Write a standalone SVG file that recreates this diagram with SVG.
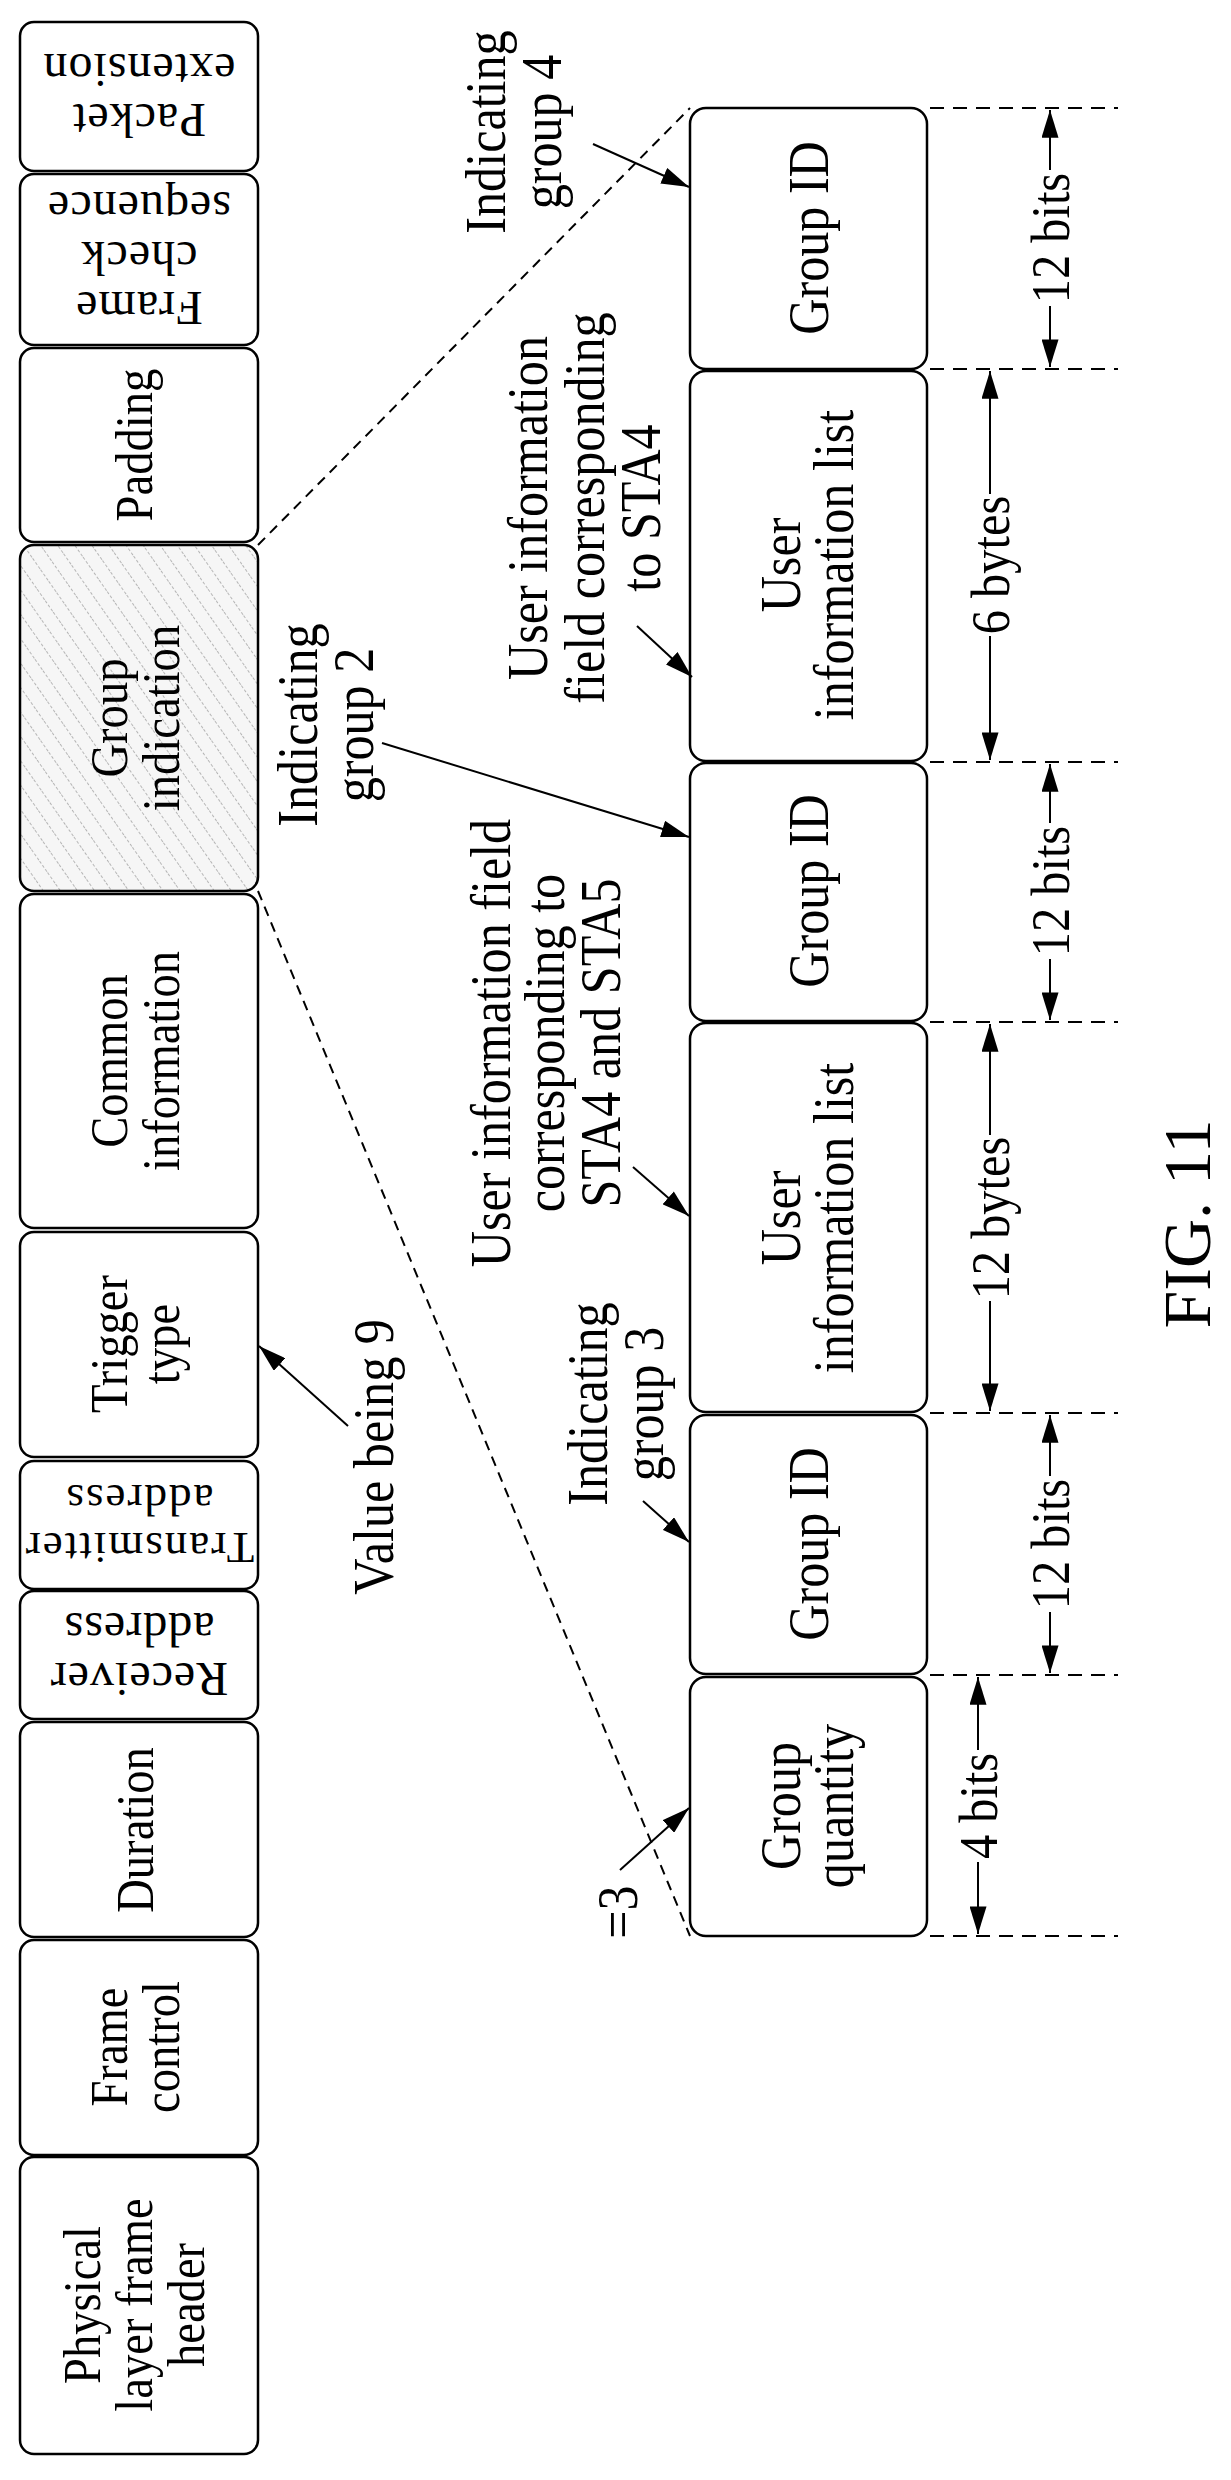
<svg xmlns="http://www.w3.org/2000/svg" width="1231" height="2480" viewBox="0 0 1231 2480">
<style>
text{font-family:"Liberation Serif","Times New Roman",serif;fill:#000;text-anchor:middle}
.b{fill:#fff;stroke:#000;stroke-width:2.5}
.l{font-size:53px}
.u{font-size:48px}
.r{font-size:57px}
.d{font-size:55px}
.c{stroke:#000;stroke-width:2;fill:none}
.dash{stroke:#000;stroke-width:2;stroke-dasharray:10 7;fill:none}
</style>
<defs>
<pattern id="hatch" width="14" height="14" patternUnits="userSpaceOnUse" patternTransform="rotate(-35)">
<rect width="14" height="14" fill="#f6f6f6"/>
<line x1="0" y1="0" x2="0" y2="14" stroke="#777" stroke-width="1" stroke-dasharray="3 2"/>
</pattern>
<marker id="ah" viewBox="0 0 26 16" refX="26" refY="8" markerWidth="28" markerHeight="17" markerUnits="userSpaceOnUse" orient="auto-start-reverse">
<path d="M0,0 L26,8 L0,16 Z" fill="#000"/>
</marker>
</defs>

<g id="frame-fields">
<g id="packet-ext"><rect class="b" x="20" y="22" width="238" height="149" rx="14"/>
<text class="u" transform="translate(139 0) rotate(180)" letter-spacing="1"><tspan x="0" y="-104">Packet</tspan><tspan x="0" y="-54">extension</tspan></text></g>
<g id="fcs"><rect class="b" x="20" y="174" width="238" height="171" rx="14"/>
<text class="u" transform="translate(139 0) rotate(180)" letter-spacing="1"><tspan x="0" y="-292">Frame</tspan><tspan x="0" y="-242">check</tspan><tspan x="0" y="-192">sequence</tspan></text></g>
<g id="padding"><rect class="b" x="20" y="348" width="238" height="194" rx="14"/>
<text class="l" transform="translate(0 445) rotate(-90) scale(0.88 1)"><tspan x="0" y="152">Padding</tspan></text></g>
<g id="group-indication"><rect class="b" x="20" y="545" width="238" height="346" rx="14" style="fill:url(#hatch)"/>
<text class="l" transform="translate(0 718) rotate(-90) scale(0.88 1)"><tspan x="0" y="127">Group</tspan><tspan x="0" y="179">indication</tspan></text></g>
<g id="common-info"><rect class="b" x="20" y="894" width="238" height="334" rx="14"/>
<text class="l" transform="translate(0 1061) rotate(-90) scale(0.88 1)"><tspan x="0" y="127">Common</tspan><tspan x="0" y="179">information</tspan></text></g>
<g id="trigger-type"><rect class="b" x="20" y="1232" width="238" height="225" rx="14"/>
<text class="l" transform="translate(0 1344) rotate(-90) scale(0.88 1)"><tspan x="0" y="127">Trigger</tspan><tspan x="0" y="179">type</tspan></text></g>
<g id="transmitter"><rect class="b" x="20" y="1461" width="238" height="128" rx="14"/>
<text class="u" transform="translate(139 0) rotate(180)" style="font-size:45px" letter-spacing="2"><tspan x="0" y="-1533">Transmitter</tspan><tspan x="0" y="-1485">address</tspan></text></g>
<g id="receiver"><rect class="b" x="20" y="1591" width="238" height="128" rx="14"/>
<text class="u" transform="translate(139 0) rotate(180)" letter-spacing="1"><tspan x="0" y="-1663">Receiver</tspan><tspan x="0" y="-1613">address</tspan></text></g>
<g id="duration"><rect class="b" x="20" y="1722" width="238" height="215" rx="14"/>
<text class="l" transform="translate(0 1830) rotate(-90) scale(0.88 1)"><tspan x="0" y="153">Duration</tspan></text></g>
<g id="frame-control"><rect class="b" x="20" y="1940" width="238" height="215" rx="14"/>
<text class="l" transform="translate(0 2047) rotate(-90) scale(0.88 1)"><tspan x="0" y="127">Frame</tspan><tspan x="0" y="179">control</tspan></text></g>
<g id="phy-header"><rect class="b" x="20" y="2157" width="238" height="297" rx="14"/>
<text class="l" transform="translate(0 2305) rotate(-90) scale(0.88 1)"><tspan x="0" y="100">Physical</tspan><tspan x="0" y="152">layer frame</tspan><tspan x="0" y="204">header</tspan></text></g>
</g>

<g id="group-fields">
<g id="gid4"><rect class="b" x="690" y="108" width="237" height="261" rx="16"/>
<text class="r" transform="translate(0 238) rotate(-90) scale(0.88 1)"><tspan x="0" y="828">Group ID</tspan></text></g>
<g id="uil-sta4"><rect class="b" x="690" y="371" width="237" height="390" rx="16"/>
<text class="r" transform="translate(0 565) rotate(-90) scale(0.88 1)"><tspan x="0" y="800">User</tspan><tspan x="0" y="853">information list</tspan></text></g>
<g id="gid2"><rect class="b" x="690" y="763" width="237" height="258" rx="16"/>
<text class="r" transform="translate(0 891) rotate(-90) scale(0.88 1)"><tspan x="0" y="828">Group ID</tspan></text></g>
<g id="uil-sta45"><rect class="b" x="690" y="1023" width="237" height="389" rx="16"/>
<text class="r" transform="translate(0 1218) rotate(-90) scale(0.88 1)"><tspan x="0" y="800">User</tspan><tspan x="0" y="853">information list</tspan></text></g>
<g id="gid3"><rect class="b" x="690" y="1415" width="237" height="259" rx="16"/>
<text class="r" transform="translate(0 1544) rotate(-90) scale(0.88 1)"><tspan x="0" y="828">Group ID</tspan></text></g>
<g id="group-qty"><rect class="b" x="690" y="1677" width="237" height="259" rx="16"/>
<text class="r" transform="translate(0 1806) rotate(-90) scale(0.88 1)"><tspan x="0" y="800">Group</tspan><tspan x="0" y="853">quantity</tspan></text></g>
</g>

<g id="annotations">
<text class="r" transform="translate(0 132) rotate(-90) scale(0.88 1)"><tspan x="0" y="505">Indicating</tspan><tspan x="0" y="561">group 4</tspan></text>
<text class="r" transform="translate(0 508) rotate(-90) scale(0.88 1)"><tspan x="0" y="547">User information</tspan><tspan x="0" y="604">field corresponding</tspan><tspan x="0" y="660">to STA4</tspan></text>
<text class="r" transform="translate(0 725) rotate(-90) scale(0.88 1)"><tspan x="0" y="317">Indicating</tspan><tspan x="0" y="373">group 2</tspan></text>
<text class="r" transform="translate(0 1043) rotate(-90) scale(0.88 1)"><tspan x="0" y="510">User information field</tspan><tspan x="0" y="564">corresponding to</tspan><tspan x="0" y="620">STA4 and STA5</tspan></text>
<text class="r" transform="translate(0 1404) rotate(-90) scale(0.88 1)"><tspan x="0" y="607">Indicating</tspan><tspan x="0" y="663">group 3</tspan></text>
<text class="r" transform="translate(0 1457) rotate(-90) scale(0.88 1)"><tspan x="0" y="393">Value being 9</tspan></text>
<text class="r" transform="translate(0 1912) rotate(-90) scale(0.88 1)"><tspan x="0" y="637">=3</tspan></text>
<text class="d" transform="translate(0 238) rotate(-90) scale(0.88 1)"><tspan x="0" y="1069">12 bits</tspan></text>
<text class="d" transform="translate(0 565) rotate(-90) scale(0.88 1)"><tspan x="0" y="1009">6 bytes</tspan></text>
<text class="d" transform="translate(0 891) rotate(-90) scale(0.88 1)"><tspan x="0" y="1069">12 bits</tspan></text>
<text class="d" transform="translate(0 1218) rotate(-90) scale(0.88 1)"><tspan x="0" y="1009">12 bytes</tspan></text>
<text class="d" transform="translate(0 1544) rotate(-90) scale(0.88 1)"><tspan x="0" y="1069">12 bits</tspan></text>
<text class="d" transform="translate(0 1806) rotate(-90) scale(0.88 1)"><tspan x="0" y="997">4 bits</tspan></text>
<text transform="translate(0 1224) rotate(-90)" style="font-size:68px"><tspan x="0" y="1210">FIG. 11</tspan></text>
</g>

<g id="connectors">
<line class="dash" x1="258" y1="545" x2="690" y2="108"/>
<line class="dash" x1="258" y1="891" x2="690" y2="1936"/>
<g class="dash" style="stroke-dasharray:14 9">
<line x1="930" y1="108" x2="1118" y2="108"/>
<line x1="930" y1="369" x2="1118" y2="369"/>
<line x1="930" y1="762" x2="1118" y2="762"/>
<line x1="930" y1="1022" x2="1118" y2="1022"/>
<line x1="930" y1="1413" x2="1118" y2="1413"/>
<line x1="930" y1="1675" x2="1118" y2="1675"/>
<line x1="930" y1="1936" x2="1118" y2="1936"/>
</g>
<line class="c" x1="593" y1="144" x2="689" y2="187" marker-end="url(#ah)"/>
<line class="c" x1="637" y1="626" x2="692" y2="677" marker-end="url(#ah)"/>
<line class="c" x1="382" y1="743" x2="689" y2="837" marker-end="url(#ah)"/>
<line class="c" x1="633" y1="1167" x2="689" y2="1216" marker-end="url(#ah)"/>
<line class="c" x1="643" y1="1501" x2="689" y2="1542" marker-end="url(#ah)"/>
<line class="c" x1="620" y1="1870" x2="689" y2="1808" marker-end="url(#ah)"/>
<line class="c" x1="348" y1="1426" x2="259" y2="1346" marker-end="url(#ah)"/>
<g class="c">
<line x1="1050" y1="170" x2="1050" y2="110" marker-end="url(#ah)"/>
<line x1="1050" y1="306" x2="1050" y2="367" marker-end="url(#ah)"/>
<line x1="990" y1="494" x2="990" y2="371" marker-end="url(#ah)"/>
<line x1="990" y1="636" x2="990" y2="760" marker-end="url(#ah)"/>
<line x1="1050" y1="823" x2="1050" y2="764" marker-end="url(#ah)"/>
<line x1="1050" y1="959" x2="1050" y2="1020" marker-end="url(#ah)"/>
<line x1="990" y1="1135" x2="990" y2="1024" marker-end="url(#ah)"/>
<line x1="990" y1="1301" x2="990" y2="1411" marker-end="url(#ah)"/>
<line x1="1050" y1="1476" x2="1050" y2="1415" marker-end="url(#ah)"/>
<line x1="1050" y1="1612" x2="1050" y2="1673" marker-end="url(#ah)"/>
<line x1="978" y1="1750" x2="978" y2="1677" marker-end="url(#ah)"/>
<line x1="978" y1="1862" x2="978" y2="1934" marker-end="url(#ah)"/>
</g>
</g>
</svg>
